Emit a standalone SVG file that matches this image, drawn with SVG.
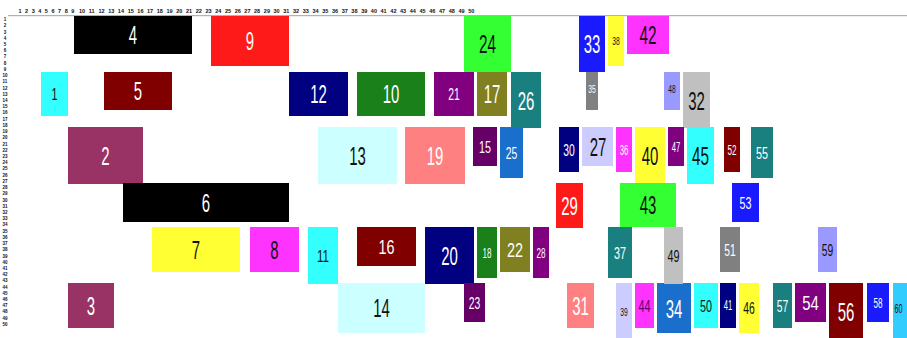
<svg xmlns="http://www.w3.org/2000/svg" width="907" height="338" viewBox="0 0 907 338">
<style>
text{font-family:"Liberation Sans Narrow","Liberation Sans",Arial,sans-serif;text-anchor:middle}
.r{font-size:5.5px;font-weight:bold;fill:#111}
.l{font-size:4.5px;font-weight:bold;fill:#111}
.L{font-size:26px}.L2{font-size:21px}.M{font-size:17px}.S{font-size:14px}.XS{font-size:11px}
.w{fill:#fff}.d{fill:#111}
</style>
<rect width="907" height="338" fill="#fff"/>
<line x1="8" y1="15.7" x2="907" y2="15.7" stroke="#a0a0a0" stroke-width="1"/>
<g id="ruler-top">
<text class="r" x="20" y="13">1</text><text class="r" x="26.6" y="13">2</text><text class="r" x="33.2" y="13">3</text><text class="r" x="39.8" y="13">4</text><text class="r" x="46.4" y="13">5</text><text class="r" x="53" y="13">6</text><text class="r" x="59.6" y="13">7</text><text class="r" x="66.2" y="13">8</text><text class="r" x="72.8" y="13">9</text>
<text class="r" x="82" y="13">10</text><text class="r" x="91.7" y="13">11</text><text class="r" x="101.5" y="13">12</text><text class="r" x="111.2" y="13">13</text><text class="r" x="120.9" y="13">14</text><text class="r" x="130.7" y="13">15</text><text class="r" x="140.4" y="13">16</text><text class="r" x="150.1" y="13">17</text><text class="r" x="159.8" y="13">18</text><text class="r" x="169.6" y="13">19</text>
<text class="r" x="179.3" y="13">20</text><text class="r" x="189" y="13">21</text><text class="r" x="198.8" y="13">22</text><text class="r" x="208.5" y="13">23</text><text class="r" x="218.2" y="13">24</text><text class="r" x="228" y="13">25</text><text class="r" x="237.7" y="13">26</text><text class="r" x="247.4" y="13">27</text><text class="r" x="257.1" y="13">28</text><text class="r" x="266.9" y="13">29</text>
<text class="r" x="276.6" y="13">30</text><text class="r" x="286.3" y="13">31</text><text class="r" x="296.1" y="13">32</text><text class="r" x="305.8" y="13">33</text><text class="r" x="315.5" y="13">34</text><text class="r" x="325.3" y="13">35</text><text class="r" x="335" y="13">36</text><text class="r" x="344.7" y="13">37</text><text class="r" x="354.4" y="13">38</text><text class="r" x="364.2" y="13">39</text>
<text class="r" x="373.9" y="13">40</text><text class="r" x="383.6" y="13">41</text><text class="r" x="393.4" y="13">42</text><text class="r" x="403.1" y="13">43</text><text class="r" x="412.8" y="13">44</text><text class="r" x="422.6" y="13">45</text><text class="r" x="432.3" y="13">46</text><text class="r" x="442" y="13">47</text><text class="r" x="451.7" y="13">48</text><text class="r" x="461.5" y="13">49</text><text class="r" x="471.2" y="13">50</text>
</g>
<g id="ruler-left">
<text class="l" x="5" y="21.1">1</text><text class="l" x="5" y="27.3">2</text><text class="l" x="5" y="33.5">3</text><text class="l" x="5" y="39.8">4</text><text class="l" x="5" y="46">5</text><text class="l" x="5" y="52.2">6</text><text class="l" x="5" y="58.4">7</text><text class="l" x="5" y="64.6">8</text><text class="l" x="5" y="70.9">9</text><text class="l" x="5" y="77.1">10</text>
<text class="l" x="5" y="83.3">11</text><text class="l" x="5" y="89.5">12</text><text class="l" x="5" y="95.7">13</text><text class="l" x="5" y="102">14</text><text class="l" x="5" y="108.2">15</text><text class="l" x="5" y="114.4">16</text><text class="l" x="5" y="120.6">17</text><text class="l" x="5" y="126.8">18</text><text class="l" x="5" y="133.1">19</text><text class="l" x="5" y="139.3">20</text>
<text class="l" x="5" y="145.5">21</text><text class="l" x="5" y="151.7">22</text><text class="l" x="5" y="157.9">23</text><text class="l" x="5" y="164.2">24</text><text class="l" x="5" y="170.4">25</text><text class="l" x="5" y="176.6">26</text><text class="l" x="5" y="182.8">27</text><text class="l" x="5" y="189">28</text><text class="l" x="5" y="195.3">29</text><text class="l" x="5" y="201.5">30</text>
<text class="l" x="5" y="207.7">31</text><text class="l" x="5" y="213.9">32</text><text class="l" x="5" y="220.1">33</text><text class="l" x="5" y="226.4">34</text><text class="l" x="5" y="232.6">35</text><text class="l" x="5" y="238.8">36</text><text class="l" x="5" y="245">37</text><text class="l" x="5" y="251.2">38</text><text class="l" x="5" y="257.5">39</text><text class="l" x="5" y="263.7">40</text>
<text class="l" x="5" y="269.9">41</text><text class="l" x="5" y="276.1">42</text><text class="l" x="5" y="282.3">43</text><text class="l" x="5" y="288.6">44</text><text class="l" x="5" y="294.8">45</text><text class="l" x="5" y="301">46</text><text class="l" x="5" y="307.2">47</text><text class="l" x="5" y="313.4">48</text><text class="l" x="5" y="319.7">49</text><text class="l" x="5" y="325.9">50</text>
</g>
<g id="connectors"/>
<g id="n1"><rect x="41" y="72" width="27" height="44" fill="#33ffff"/><text class="M d" x="54.5" y="100" textLength="6" lengthAdjust="spacingAndGlyphs">1</text></g>
<g id="n2"><rect x="68" y="127" width="75" height="57" fill="#993366"/><text class="L w" x="105.5" y="164.5" textLength="8.3" lengthAdjust="spacingAndGlyphs">2</text></g>
<g id="n3"><rect x="68" y="283" width="46" height="45" fill="#993366"/><text class="L w" x="91" y="314.5" textLength="8.3" lengthAdjust="spacingAndGlyphs">3</text></g>
<g id="n4"><rect x="74" y="16" width="118" height="38" fill="#000"/><text class="L w" x="133" y="44" textLength="8.3" lengthAdjust="spacingAndGlyphs">4</text></g>
<g id="n5"><rect x="104" y="72" width="68" height="38" fill="#800000"/><text class="L w" x="138" y="100" textLength="8.3" lengthAdjust="spacingAndGlyphs">5</text></g>
<g id="n6"><rect x="123" y="183" width="166" height="39" fill="#000"/><text class="L w" x="206" y="211.5" textLength="8.3" lengthAdjust="spacingAndGlyphs">6</text></g>
<g id="n7"><rect x="152" y="227" width="88" height="45" fill="#ffff33"/><text class="L d" x="196" y="258.5" textLength="8.3" lengthAdjust="spacingAndGlyphs">7</text></g>
<g id="n8"><rect x="250" y="227" width="49" height="45" fill="#ff33ff"/><text class="L d" x="274.5" y="258.5" textLength="8.3" lengthAdjust="spacingAndGlyphs">8</text></g>
<g id="n9"><rect x="211" y="16" width="78" height="50" fill="#ff1a1a"/><text class="L w" x="250" y="50" textLength="8.3" lengthAdjust="spacingAndGlyphs">9</text></g>
<g id="n10"><rect x="357" y="72" width="68" height="44" fill="#1a801a"/><text class="L w" x="391" y="103" textLength="16.6" lengthAdjust="spacingAndGlyphs">10</text></g>
<g id="n11"><rect x="308" y="227" width="30" height="57" fill="#33ffff"/><text class="M d" x="323" y="261.5" textLength="12" lengthAdjust="spacingAndGlyphs">11</text></g>
<g id="n12"><rect x="289" y="72" width="59" height="44" fill="#000080"/><text class="L w" x="318.5" y="103" textLength="16.6" lengthAdjust="spacingAndGlyphs">12</text></g>
<g id="n13"><rect x="318" y="127" width="79" height="57" fill="#ccffff"/><text class="L d" x="357.5" y="164.5" textLength="16.6" lengthAdjust="spacingAndGlyphs">13</text></g>
<g id="n14"><rect x="338" y="283" width="87" height="50" fill="#ccffff"/><text class="L d" x="381.5" y="317" textLength="16.6" lengthAdjust="spacingAndGlyphs">14</text></g>
<g id="n15"><rect x="473" y="127" width="24" height="39" fill="#660066"/><text class="M w" x="485" y="152.5" textLength="12" lengthAdjust="spacingAndGlyphs">15</text></g>
<g id="n16"><rect x="357" y="227" width="59" height="39" fill="#800000"/><text class="L2 w" x="386.5" y="254" textLength="16" lengthAdjust="spacingAndGlyphs">16</text></g>
<g id="n17"><rect x="477" y="72" width="30" height="44" fill="#808020"/><text class="L w" x="492" y="103" textLength="16.6" lengthAdjust="spacingAndGlyphs">17</text></g>
<g id="n18"><rect x="477" y="227" width="20" height="51" fill="#1a801a"/><text class="S w" x="487" y="257.5" textLength="9" lengthAdjust="spacingAndGlyphs">18</text></g>
<g id="n19"><rect x="405" y="127" width="60" height="57" fill="#ff8080"/><text class="L w" x="435" y="164.5" textLength="16.6" lengthAdjust="spacingAndGlyphs">19</text></g>
<g id="n20"><rect x="425" y="227" width="49" height="57" fill="#000080"/><text class="L w" x="449.5" y="264.5" textLength="16.6" lengthAdjust="spacingAndGlyphs">20</text></g>
<g id="n21"><rect x="434" y="72" width="40" height="44" fill="#800080"/><text class="M w" x="454" y="100" textLength="11.5" lengthAdjust="spacingAndGlyphs">21</text></g>
<g id="n22"><rect x="500" y="227" width="30" height="45" fill="#808020"/><text class="L2 w" x="515" y="257" textLength="16" lengthAdjust="spacingAndGlyphs">22</text></g>
<g id="n23"><rect x="464" y="283" width="21" height="39" fill="#660066"/><text class="M w" x="474.5" y="308.5" textLength="11.5" lengthAdjust="spacingAndGlyphs">23</text></g>
<g id="n24"><rect x="464" y="16" width="47" height="56" fill="#33ff33"/><text class="L d" x="487.5" y="53" textLength="17" lengthAdjust="spacingAndGlyphs">24</text></g>
<g id="n25"><rect x="500" y="127" width="23" height="51" fill="#1a6ecc"/><text class="M w" x="511.5" y="158.5" textLength="11.5" lengthAdjust="spacingAndGlyphs">25</text></g>
<g id="n26"><rect x="511" y="72" width="30" height="56" fill="#1a7f7f"/><text class="L w" x="526" y="110" textLength="16.6" lengthAdjust="spacingAndGlyphs">26</text></g>
<g id="n27"><rect x="582" y="127" width="31" height="39" fill="#ccccff"/><text class="L d" x="598" y="155.5" textLength="16.6" lengthAdjust="spacingAndGlyphs">27</text></g>
<g id="n28"><rect x="533" y="227" width="16" height="51" fill="#800080"/><text class="S w" x="541" y="257.5" textLength="9" lengthAdjust="spacingAndGlyphs">28</text></g>
<g id="n29"><rect x="556" y="183" width="27" height="45" fill="#ff1a1a"/><text class="L w" x="569.5" y="214.5" textLength="16.6" lengthAdjust="spacingAndGlyphs">29</text></g>
<g id="n30"><rect x="559" y="127" width="20" height="45" fill="#000080"/><text class="M w" x="569" y="155.5" textLength="11.5" lengthAdjust="spacingAndGlyphs">30</text></g>
<g id="n31"><rect x="567" y="283" width="27" height="45" fill="#ff8080"/><text class="L w" x="580.5" y="314.5" textLength="16.6" lengthAdjust="spacingAndGlyphs">31</text></g>
<g id="n32"><rect x="683" y="72" width="27" height="56" fill="#c0c0c0"/><text class="L d" x="696.5" y="110" textLength="16.6" lengthAdjust="spacingAndGlyphs">32</text></g>
<g id="n33"><rect x="579" y="16" width="26" height="56" fill="#1a1aff"/><text class="L w" x="592" y="53" textLength="16.6" lengthAdjust="spacingAndGlyphs">33</text></g>
<g id="n34"><rect x="657" y="283" width="34" height="50" fill="#1a6ecc"/><text class="L w" x="674" y="318" textLength="16.6" lengthAdjust="spacingAndGlyphs">34</text></g>
<g id="n35"><rect x="586" y="72" width="12" height="38" fill="#808080"/><text class="XS w" x="592" y="93" textLength="7.5" lengthAdjust="spacingAndGlyphs">35</text></g>
<g id="n36"><rect x="616" y="127" width="16" height="45" fill="#ff33ff"/><text class="S w" x="624" y="154.5" textLength="8.5" lengthAdjust="spacingAndGlyphs">36</text></g>
<g id="n37"><rect x="608" y="227" width="24" height="51" fill="#1a7f7f"/><text class="M w" x="620" y="258.5" textLength="12" lengthAdjust="spacingAndGlyphs">37</text></g>
<g id="n38"><rect x="608" y="16" width="16" height="50" fill="#ffff33"/><text class="XS d" x="616" y="45" textLength="7.5" lengthAdjust="spacingAndGlyphs">38</text></g>
<g id="n39"><rect x="616" y="283" width="16" height="57" fill="#ccccff"/><text class="XS d" x="624" y="316" textLength="7.5" lengthAdjust="spacingAndGlyphs">39</text></g>
<g id="n40"><rect x="635" y="127" width="30" height="57" fill="#ffff33"/><text class="L d" x="650" y="165" textLength="16.6" lengthAdjust="spacingAndGlyphs">40</text></g>
<g id="n41"><rect x="720" y="283" width="16" height="45" fill="#000080"/><text class="S w" x="728" y="310" textLength="8.5" lengthAdjust="spacingAndGlyphs">41</text></g>
<g id="n42"><rect x="627" y="16" width="42" height="38" fill="#ff33ff"/><text class="L d" x="648" y="44" textLength="17" lengthAdjust="spacingAndGlyphs">42</text></g>
<g id="n43"><rect x="620" y="183" width="56" height="44" fill="#33ff33"/><text class="L d" x="648" y="214" textLength="16.6" lengthAdjust="spacingAndGlyphs">43</text></g>
<g id="n44"><rect x="635" y="283" width="19" height="45" fill="#ff33ff"/><text class="M" fill="#660066" x="644.5" y="311.5" textLength="12" lengthAdjust="spacingAndGlyphs">44</text></g>
<g id="n45"><rect x="687" y="127" width="27" height="57" fill="#33ffff"/><text class="L d" x="700.5" y="165" textLength="17" lengthAdjust="spacingAndGlyphs">45</text></g>
<g id="n46"><rect x="739" y="283" width="20" height="50" fill="#ffff33"/><text class="M d" x="749" y="314" textLength="11.5" lengthAdjust="spacingAndGlyphs">46</text></g>
<g id="n47"><rect x="668" y="127" width="16" height="39" fill="#800080"/><text class="S w" x="676" y="151.5" textLength="8.5" lengthAdjust="spacingAndGlyphs">47</text></g>
<g id="n48"><rect x="664" y="72" width="16" height="38" fill="#9999ff"/><text class="XS d" x="672" y="93" textLength="7.3" lengthAdjust="spacingAndGlyphs">48</text></g>
<g id="n49"><rect x="664" y="227" width="19" height="57" fill="#c0c0c0"/><text class="M d" x="673.5" y="262" textLength="12" lengthAdjust="spacingAndGlyphs">49</text></g>
<g id="n50"><rect x="694" y="283" width="24" height="45" fill="#33ffff"/><text class="M d" x="706" y="311.5" textLength="12" lengthAdjust="spacingAndGlyphs">50</text></g>
<g id="n51"><rect x="720" y="227" width="20" height="45" fill="#808080"/><text class="M w" x="730" y="255.5" textLength="11.5" lengthAdjust="spacingAndGlyphs">51</text></g>
<g id="n52"><rect x="724" y="127" width="16" height="45" fill="#800000"/><text class="S w" x="732" y="154.5" textLength="9" lengthAdjust="spacingAndGlyphs">52</text></g>
<g id="n53"><rect x="732" y="183" width="27" height="39" fill="#1a1aff"/><text class="M w" x="745.5" y="208.5" textLength="12" lengthAdjust="spacingAndGlyphs">53</text></g>
<g id="n54"><rect x="795" y="283" width="31" height="39" fill="#800080"/><text class="L2 w" x="810.5" y="309.5" textLength="16.6" lengthAdjust="spacingAndGlyphs">54</text></g>
<g id="n55"><rect x="751" y="127" width="22" height="51" fill="#1a7f7f"/><text class="M w" x="762" y="158.5" textLength="12" lengthAdjust="spacingAndGlyphs">55</text></g>
<g id="n56"><rect x="829" y="283" width="34" height="57" fill="#800000"/><text class="L w" x="846" y="321" textLength="16.6" lengthAdjust="spacingAndGlyphs">56</text></g>
<g id="n57"><rect x="773" y="283" width="19" height="45" fill="#1a7f7f"/><text class="M w" x="782.5" y="311.5" textLength="11.5" lengthAdjust="spacingAndGlyphs">57</text></g>
<g id="n58"><rect x="867" y="283" width="22" height="39" fill="#1a1aff"/><text class="S w" x="878" y="307.5" textLength="9" lengthAdjust="spacingAndGlyphs">58</text></g>
<g id="n59"><rect x="818" y="227" width="19" height="45" fill="#9999ff"/><text class="M d" x="827.5" y="255.5" textLength="11.5" lengthAdjust="spacingAndGlyphs">59</text></g>
<g id="n60"><rect x="893" y="283" width="16" height="57" fill="#33ccff"/><text class="d" style="font-size:12px" x="898.5" y="312.5" textLength="8" lengthAdjust="spacingAndGlyphs">60</text></g>
</svg>
